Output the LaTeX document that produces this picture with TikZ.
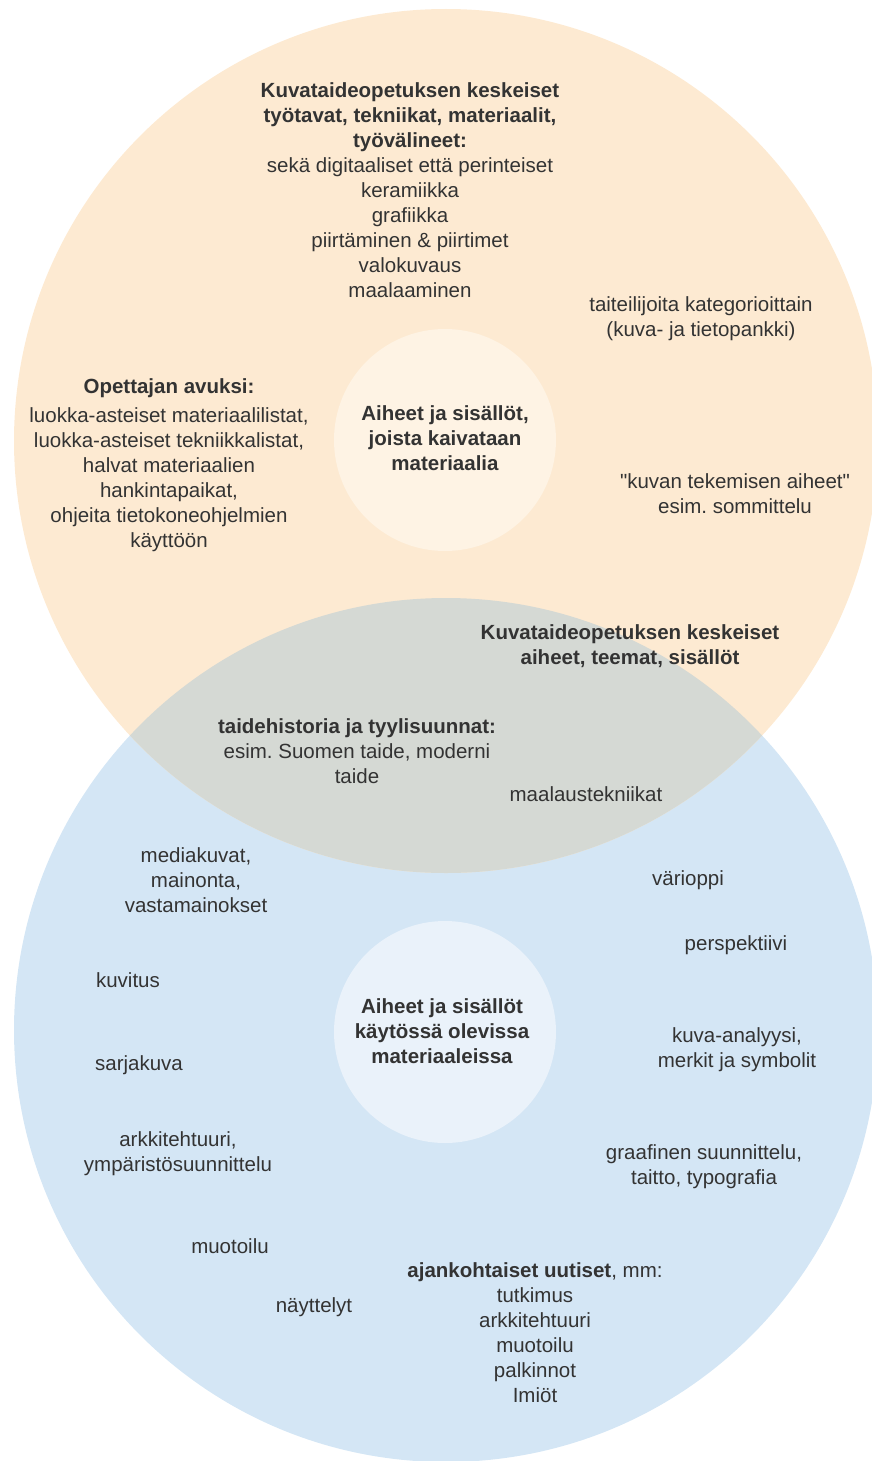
\documentclass[tikz,border=0pt]{standalone}
\usepackage{fontspec}
\setmainfont{Liberation Sans}
\usetikzlibrary{positioning}
\frenchspacing
\definecolor{peach}{HTML}{FDEAD2}
\definecolor{peachlight}{HTML}{FEF3E4}
\definecolor{sky}{HTML}{D4E6F5}
\definecolor{skylight}{HTML}{EAF2FA}
\definecolor{mix}{HTML}{D5D9D4}
\definecolor{ink}{HTML}{333333}

\begin{document}
\begin{tikzpicture}[x=1pt, y=-1pt,
			big/.style={circle, inner sep=0pt, minimum size=864pt},
			hub/.style={circle, inner sep=0pt, minimum size=222pt},
			txt/.style={align=center, text=ink, inner sep=0pt, font=\fontsize{20.5}{25}\selectfont},
			head/.style={txt, font=\fontsize{20.5}{25}\selectfont\bfseries}]
			\useasboundingbox (0, 0) rectangle (871, 1461);
			
			\node[big, fill=sky](lower) at (446, 1030) {};
			\node[big, fill=peach](upper) at (446, 441) {};
			\begin{scope}
				\clip (446, 441) circle (432);
				\fill[mix] (446, 1030) circle (432);
			\end{scope}
			\node[hub, fill=peachlight](hubup) at (445, 440) {};
			\node[hub, fill=skylight](hubdown) at (445, 1032) {};
			
			% upper circle
			\node[head](hubuptext) at (445, 438) {Aiheet ja sisällöt,\\joista kaivataan\\materiaalia};
			\node[txt](techniques) at (410, 190) {\textbf{Kuvataideopetuksen keskeiset}\\\textbf{työtavat, tekniikat, materiaalit,}\\\textbf{työvälineet:}\\sekä digitaaliset että perinteiset\\keramiikka\\grafiikka\\piirtäminen \& piirtimet\\valokuvaus\\maalaaminen};
			\node[txt](artists) at (701, 319) {taiteilijoita kategorioittain\\(kuva- ja tietopankki)};
			\node[head](teacher) at (169, 388) {Opettajan avuksi:};
			\node[txt, below=10pt of teacher](teacherlist) {luokka-asteiset materiaalilistat,\\luokka-asteiset tekniikkalistat,\\halvat materiaalien\\hankintapaikat,\\ohjeita tietokoneohjelmien\\käyttöön};
			\node[txt](making) at (735, 494) {\textquotedbl kuvan tekemisen aiheet\textquotedbl\\esim. sommittelu};
			
			% overlap
			\node[head](themes) at (630, 646) {Kuvataideopetuksen keskeiset\\aiheet, teemat, sisällöt};
			\node[txt](history) at (357, 751) {\textbf{taidehistoria ja tyylisuunnat:}\\esim. Suomen taide, moderni\\taide};
			\node[txt](painting) at (586, 794) {maalaustekniikat};
			
			% lower circle
			\node[head](hubdowntext) at (442, 1031) {Aiheet ja sisällöt\\käytössä olevissa\\materiaaleissa};
			\node[txt](media) at (196, 880) {mediakuvat,\\mainonta,\\vastamainokset};
			\node[txt](colour) at (688, 880) {värioppi};
			\node[txt](perspective) at (736, 945) {perspektiivi};
			\node[txt](illustration) at (128, 980) {kuvitus};
			\node[txt](analysis) at (737, 1050) {kuva-analyysi,\\merkit ja symbolit};
			\node[txt](comics) at (139, 1065) {sarjakuva};
			\node[txt](architecture) at (178, 1154) {arkkitehtuuri,\\ympäristösuunnittelu};
			\node[txt](graphic) at (704, 1167) {graafinen suunnittelu,\\taitto, typografia};
			\node[txt](design) at (230, 1246) {muotoilu};
			\node[txt](exhibitions) at (314, 1307) {näyttelyt};
			\node[txt](news) at (535, 1333) {\textbf{ajankohtaiset uutiset}, mm:\\tutkimus\\arkkitehtuuri\\muotoilu\\palkinnot\\Imiöt};
		\end{tikzpicture}
\end{document}
